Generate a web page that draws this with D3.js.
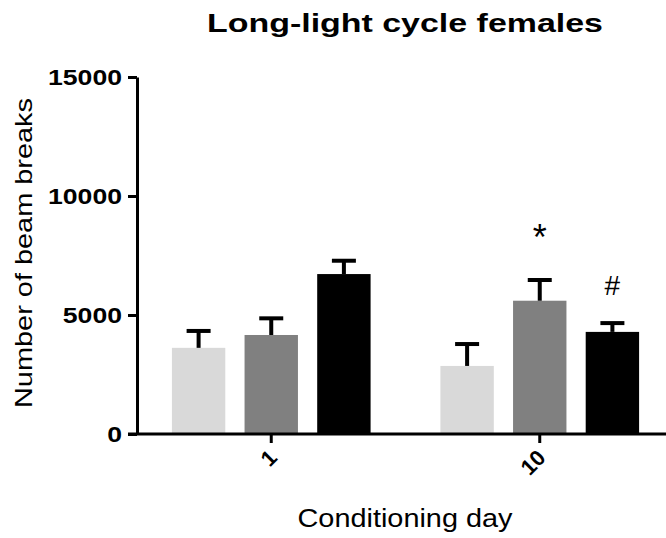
<!DOCTYPE html>
<html>
<head>
<meta charset="utf-8">
<script src="https://cdn.jsdelivr.net/npm/d3@7"></script>
<style>
  body { margin: 0; background: #fff; }
  svg { display: block; font-family: "Liberation Sans", Arial, sans-serif; }
</style>
</head>
<body>
<div class="canvas"></div>
<script>
// data
const days = ['1', '10'];
const groups = ['Group 1', 'Group 2', 'Group 3'];
const colours = ['#d9d9d9', '#808080', '#000000'];
const means = [
  [3620, 4160, 6720],   // day 1
  [2860, 5600, 4290]    // day 10
];
const sems = [
  [710, 700, 560],
  [920, 870, 370]
];
const yTicks = [0, 5000, 10000, 15000];
const marks = [
  { day: '10', group: 1, text: '*' },
  { day: '10', group: 2, text: '#' }
];

const dims = { width: 666, height: 538 };
const plot = { left: 137, right: 674, top: 77, bottom: 434 };

const svg = d3.select('.canvas')
  .append('svg')
  .attr('width', dims.width)
  .attr('height', dims.height);

const x0 = d3.scaleBand()
  .domain(days)
  .range([plot.left, plot.right])
  .paddingInner(0.26)
  .paddingOuter(0.13);

const x1 = d3.scaleBand()
  .domain(d3.range(groups.length))
  .range([0, x0.bandwidth()])
  .paddingInner(0.265);

const y = d3.scaleLinear()
  .domain([0, 15000])
  .range([plot.bottom, plot.top]);

const rows = [];
days.forEach((day, i) => {
  groups.forEach((g, j) => {
    rows.push({ day, j, mean: means[i][j], sem: sems[i][j] });
  });
});

// bars
svg.append('g').selectAll('rect')
  .data(rows)
  .enter().append('rect')
    .attr('x', d => x0(d.day) + x1(d.j))
    .attr('width', x1.bandwidth())
    .attr('y', d => y(d.mean))
    .attr('height', d => y(0) - y(d.mean))
    .attr('fill', d => colours[d.j]);

// error bars (upper only)
const err = svg.append('g').attr('stroke', '#000');
err.selectAll('line.stem')
  .data(rows)
  .enter().append('line')
    .attr('class', 'stem')
    .attr('stroke-width', 4)
    .attr('x1', d => x0(d.day) + x1(d.j) + x1.bandwidth() / 2)
    .attr('x2', d => x0(d.day) + x1(d.j) + x1.bandwidth() / 2)
    .attr('y1', d => y(d.mean))
    .attr('y2', d => y(d.mean + d.sem));
err.selectAll('line.cap')
  .data(rows)
  .enter().append('line')
    .attr('class', 'cap')
    .attr('stroke-width', 4)
    .attr('x1', d => x0(d.day) + x1(d.j) + x1.bandwidth() / 2 - 12)
    .attr('x2', d => x0(d.day) + x1(d.j) + x1.bandwidth() / 2 + 12)
    .attr('y1', d => y(d.mean + d.sem))
    .attr('y2', d => y(d.mean + d.sem));

// significance marks
svg.append('g').selectAll('text')
  .data(marks)
  .enter().append('text')
    .attr('text-anchor', 'middle')
    .attr('x', d => x0(d.day) + x1(d.group) + x1.bandwidth() / 2)
    .attr('y', d => {
      const i = days.indexOf(d.day);
      const top = y(means[i][d.group] + sems[i][d.group]);
      return d.text === '*' ? top - 30 : top - 28;
    })
    .attr('font-size', d => d.text === '*' ? 36 : 28)
    .text(d => d.text);

// axes
const yAxis = svg.append('g')
  .attr('transform', `translate(${plot.left},0)`)
  .call(d3.axisLeft(y).tickValues(yTicks).tickFormat(d3.format('d'))
    .tickSize(9).tickSizeOuter(0).tickPadding(6));
yAxis.select('.domain').attr('stroke-width', 3);
yAxis.selectAll('.tick line').attr('stroke-width', 3);
yAxis.selectAll('.tick text')
  .attr('font-size', 22)
  .attr('font-weight', 'bold')
  .attr('font-family', '"Liberation Sans", Arial, sans-serif')
  .attr('fill', '#000')
  .attr('textLength', d => String(d).length * 14.8)
  .attr('lengthAdjust', 'spacingAndGlyphs');

const xAxis = svg.append('g')
  .attr('transform', `translate(0,${plot.bottom})`)
  .call(d3.axisBottom(x0).tickSize(9).tickSizeOuter(0).tickPadding(4));
xAxis.select('.domain').attr('stroke-width', 3).attr('d', `M${plot.left - 9},0H${plot.right}`);
xAxis.selectAll('.tick line').attr('stroke-width', 3);
xAxis.selectAll('.tick text')
  .attr('font-size', 22)
  .attr('font-weight', 'bold')
  .attr('font-family', '"Liberation Sans", Arial, sans-serif')
  .attr('fill', '#000')
  .attr('text-anchor', 'end')
  .attr('dy', null)
  .attr('transform', 'translate(-2,16) rotate(-45)');

// titles
svg.append('text')
  .attr('x', 405).attr('y', 32)
  .attr('text-anchor', 'middle')
  .attr('font-size', 25).attr('font-weight', 'bold')
  .attr('textLength', 396).attr('lengthAdjust', 'spacingAndGlyphs')
  .text('Long-light cycle females');

svg.append('text')
  .attr('x', 405).attr('y', 527)
  .attr('text-anchor', 'middle')
  .attr('font-size', 25)
  .attr('textLength', 215).attr('lengthAdjust', 'spacingAndGlyphs')
  .text('Conditioning day');

svg.append('text')
  .attr('transform', 'translate(32,253) rotate(-90)')
  .attr('text-anchor', 'middle')
  .attr('font-size', 24)
  .attr('textLength', 310).attr('lengthAdjust', 'spacingAndGlyphs')
  .text('Number of beam breaks');
</script>
</body>
</html>
